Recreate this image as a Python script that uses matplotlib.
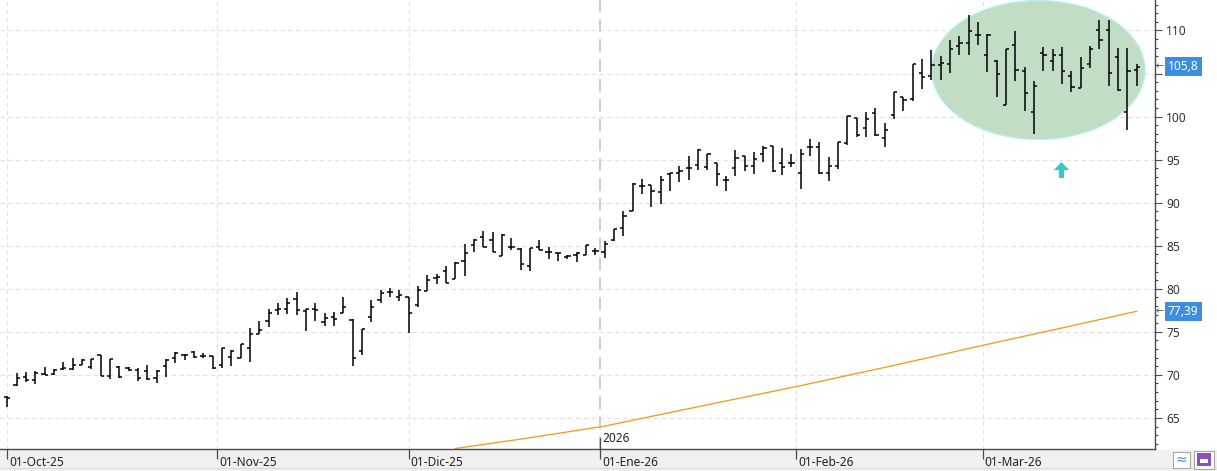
import numpy as np
import pandas as pd
import matplotlib
matplotlib.use("Agg")
import matplotlib.pyplot as plt
import matplotlib.transforms as mtransforms
from matplotlib.patches import Ellipse, FancyArrow, Rectangle
from matplotlib.ticker import MultipleLocator, FuncFormatter

# ---------------- data ----------------
holidays = ["2025-12-25", "2025-12-26", "2026-01-01"]
dates = pd.bdate_range("2025-10-01", "2026-03-24").drop(pd.to_datetime(holidays))

opens = [67.45, 68.8, 69.7, 69.4, 70.1, 70.1, 70.7, 70.7, 71.2, 70.9,
         72.3, 69.9, 70.9, 70.8, 70.6, 70.4, 69.6, 71.05, 72.0, 72.3,
         72.7, 72.2, 72.2, 71.2, 72.1, 72.0, 73.1, 74.8, 76.2, 77.5,
         77.7, 78.8, 77.4, 77.7, 76.1, 76.7, 77.2, 76.4, 72.8, 76.75,
         78.65, 79.65, 79.1, 79.0, 78.1, 79.7, 81.2, 82.1, 81.1, 83.25,
         85.1, 86.0, 85.7, 83.8, 84.85, 84.6, 82.7, 84.85, 84.3, 84.15,
         83.7, 83.9, 83.95, 84.35, 84.3, 85.7, 87.1, 89.0, 91.9, 92.0,
         91.2, 93.35, 93.4, 94.05, 94.4, 94.15, 94.55, 92.6, 94.05, 95.4,
         94.3, 95.6, 96.6, 94.65, 94.6, 93.45, 96.5, 96.5, 93.5, 94.3,
         96.9, 99.8, 98.7, 100.4, 97.55, 100.15, 102.3, 102.0, 105.1, 104.7,
         106.0, 106.1, 108.15, 108.55, 109.5, 107.2, 106.45, 101.4, 108.35, 105.3,
         100.55, 107.4, 106.45, 107.15, 104.75, 103.3, 106.05, 110.0, 110.0, 106.95,
         100.55, 105.4]
highs = [67.6, 70.2, 70.3, 70.4, 70.9, 70.7, 71.5, 72.0, 71.8, 71.9,
         72.3, 71.8, 71.0, 70.9, 70.8, 71.2, 70.6, 71.8, 72.7, 72.4,
         72.8, 72.5, 72.2, 73.1, 72.9, 73.6, 75.5, 76.3, 77.7, 78.3,
         78.9, 79.6, 77.6, 78.3, 77.2, 77.3, 79.1, 76.5, 75.3, 78.65,
         79.9, 80.1, 79.8, 79.1, 80.3, 81.6, 81.75, 82.7, 83.1, 85.2,
         85.8, 86.7, 86.6, 86.4, 85.9, 84.7, 84.7, 85.7, 84.85, 84.2,
         83.95, 84.25, 85.1, 84.7, 85.5, 86.95, 89.0, 92.3, 92.8, 92.0,
         93.15, 93.4, 94.3, 95.4, 96.2, 95.7, 94.55, 93.15, 96.15, 95.45,
         95.85, 96.6, 96.6, 96.35, 95.7, 96.2, 97.45, 97.05, 95.25, 97.0,
         100.1, 99.8, 100.5, 100.95, 99.3, 102.9, 102.3, 106.05, 106.7, 107.75,
         107.05, 108.85, 109.4, 111.85, 111.0, 109.6, 106.55, 107.9, 109.9, 105.8,
         104.1, 108.1, 107.8, 108.1, 105.3, 106.95, 108.15, 111.25, 111.25, 107.95,
         107.95, 106.05]
lows = [66.3, 68.75, 69.2, 68.9, 70.0, 70.0, 70.6, 70.6, 71.1, 70.7,
        69.85, 69.5, 69.6, 70.4, 69.3, 69.4, 69.1, 69.8, 71.4, 71.7,
        72.0, 72.0, 70.7, 70.85, 71.0, 72.0, 71.5, 74.8, 75.6, 76.9,
        77.1, 76.9, 75.1, 76.25, 75.7, 75.7, 77.2, 71.0, 72.3, 76.1,
        78.3, 79.0, 78.6, 74.85, 77.9, 79.7, 80.6, 80.7, 81.1, 81.5,
        84.3, 84.9, 84.25, 83.8, 84.45, 82.2, 82.1, 84.45, 83.4, 83.2,
        83.5, 83.1, 83.9, 83.95, 83.55, 85.6, 86.15, 89.0, 91.05, 89.5,
        89.8, 91.4, 92.4, 92.6, 93.85, 93.8, 91.9, 91.35, 93.1, 93.65,
        93.3, 94.7, 93.55, 93.2, 94.1, 91.55, 95.45, 93.3, 92.55, 93.9,
        96.7, 97.6, 97.6, 97.7, 96.5, 99.7, 100.6, 101.8, 103.2, 104.2,
        104.2, 105.1, 107.2, 107.1, 108.35, 105.2, 102.25, 101.4, 104.15, 100.65,
        98.0, 105.3, 105.3, 103.8, 102.85, 103.3, 105.7, 107.9, 103.6, 103.0,
        98.45, 103.5]
closes = [67.35, 69.6, 69.4, 70.2, 70.0, 70.6, 70.8, 71.2, 71.7, 71.8,
          69.9, 71.8, 69.7, 70.6, 69.6, 69.5, 70.4, 71.7, 72.5, 72.3,
          72.1, 72.2, 70.8, 73.1, 72.8, 73.55, 74.8, 75.2, 77.2, 77.7,
          78.4, 77.5, 77.6, 77.5, 76.6, 76.5, 77.9, 72.0, 75.3, 77.9,
          79.5, 79.65, 79.3, 77.2, 79.9, 81.05, 81.35, 80.7, 83.0, 84.2,
          85.7, 84.9, 84.25, 86.2, 84.85, 82.9, 84.7, 84.45, 84.25, 84.15,
          83.75, 84.2, 85.1, 84.35, 85.25, 86.9, 88.4, 92.2, 91.9, 91.35,
          92.6, 93.4, 93.7, 94.05, 96.15, 95.6, 93.3, 92.6, 95.2, 94.25,
          95.1, 96.35, 93.65, 94.15, 94.6, 95.6, 96.5, 93.5, 94.3, 97.0,
          100.1, 97.9, 99.7, 97.9, 98.4, 102.85, 101.9, 106.05, 104.6, 106.0,
          106.2, 107.8, 108.55, 109.9, 109.5, 109.5, 104.9, 107.9, 105.4, 102.75,
          103.6, 107.15, 107.15, 105.3, 103.4, 105.7, 107.9, 108.85, 105.05, 103.05,
          105.3, 105.8]

# moving average (orange), read at a few bars
ma_idx = [48, 56, 64, 74, 85, 95, 105, 113, 121]
ma_val = [61.45, 62.7, 64.05, 66.3, 68.75, 71.1, 73.55, 75.45, 77.39]

month_labels = ["01-Oct-25", "01-Nov-25", "01-Dic-25", "01-Ene-26", "01-Feb-26", "01-Mar-26"]
year_label = "2026"

# ---------------- figure ----------------
W, H = 1217, 471
fig = plt.figure(figsize=(W / 100, H / 100), dpi=100)
fig.patch.set_facecolor("white")
ax = fig.add_axes([0, 22 / H, 1155 / W, 449 / H])
ax.set_xlim(-0.782, 122.96)
ax.set_ylim(61.39, 113.54)

FONT = "Noto Sans"
FS = 8.6

x = np.arange(len(dates))

# month tick positions (first trading day; half a bar earlier if the 1st was not traded)
month_pos = []
for m in pd.period_range("2025-10", "2026-03", freq="M"):
    first = m.to_timestamp()
    i = int(np.searchsorted(dates.values, np.datetime64(first)))
    month_pos.append(i if dates[i] == first else i - 0.5)
year_pos = month_pos[3]

# grid
for yv in range(65, 111, 5):
    ax.axhline(yv, color="#e0e0e0", lw=0.8, ls=(0, (4, 3)), zorder=0)
for k, p in enumerate(month_pos):
    if k == 3:
        ax.axvline(p, color="#c9c9c9", lw=1.3, ls=(0, (7, 4)), zorder=0)
    else:
        ax.axvline(p, color="#e0e0e0", lw=0.8, ls=(0, (4, 3)), zorder=0)

# highlighted zone
ax.add_patch(Ellipse((110.46, 105.41), width=22.85, height=16.14,
                     facecolor="#c1dec4", edgecolor="#b6efef", lw=1.0, zorder=1))
ax.add_patch(FancyArrow(112.94, 92.87, 0, 1.86, width=0.55, head_width=1.65,
                        head_length=0.95, length_includes_head=True,
                        color="#35c8cb", lw=0, zorder=2))

# OHLC bars
tick_w = 0.34
ax.vlines(x, lows, highs, color="black", lw=1.1, zorder=3)
ax.hlines(opens, x - tick_w, x, color="black", lw=1.1, zorder=3)
ax.hlines(closes, x, x + tick_w, color="black", lw=1.1, zorder=3)

# moving average
ax.plot(ma_idx, ma_val, color="#f59b1e", lw=0.95, zorder=2)

# spines / axes
for s in ["left", "top"]:
    ax.spines[s].set_visible(False)
for s in ["right", "bottom"]:
    ax.spines[s].set_color("#4a4a4a")
    ax.spines[s].set_linewidth(1.0)

ax.yaxis.tick_right()
ax.set_yticks(range(65, 111, 5))
# the 105 label sits under the last-price flag in the reference
ax.yaxis.set_major_formatter(FuncFormatter(lambda v, p: "" if abs(v - 105) < 0.01 else f"{v:.0f}"))
ax.yaxis.set_minor_locator(MultipleLocator(1))
ax.tick_params(axis="y", which="major", length=5, width=0.8, color="#4a4a4a",
               pad=3, labelsize=FS, labelcolor="#333333")
ax.tick_params(axis="y", which="minor", length=2.5, width=0.8, color="#4a4a4a")
for lab in ax.get_yticklabels():
    lab.set_fontfamily(FONT)

ax.set_xticks(month_pos)
ax.set_xticklabels([])
ax.tick_params(axis="x", which="major", length=7, width=0.9, color="#4a4a4a")

# month labels
lab_tr = mtransforms.offset_copy(ax.get_xaxis_transform(), fig=fig, x=2, y=-13, units="dots")
for p, t in zip(month_pos, month_labels):
    ax.text(p, 0, t, transform=lab_tr, ha="left", va="center", fontsize=FS,
            family=FONT, color="#222222", clip_on=False)
yr_tr = mtransforms.offset_copy(ax.get_xaxis_transform(), fig=fig, x=2, y=10, units="dots")
ax.text(year_pos, 0, year_label, transform=yr_tr, ha="left", va="center",
        fontsize=FS, family=FONT, color="#222222")
ax.plot([year_pos, year_pos], [0, 0.025], transform=ax.get_xaxis_transform(),
        color="#4a4a4a", lw=0.9, clip_on=False)

# value flags on the right axis
def flag(val, txt):
    tr = mtransforms.blended_transform_factory(ax.transAxes, ax.transData)
    ax.text(1, val, txt, transform=mtransforms.offset_copy(tr, fig=fig, x=13, y=0, units="dots"),
            ha="left", va="center", fontsize=FS, family=FONT, color="white", zorder=10,
            bbox=dict(boxstyle="square,pad=0.25", fc="#3b8ee2", ec="none"), clip_on=False)
    ax.text(1, val, "\u2190", transform=mtransforms.offset_copy(tr, fig=fig, x=1, y=0, units="dots"),
            ha="left", va="center", fontsize=7, family="DejaVu Sans", color="#555555",
            zorder=10, clip_on=False)

flag(closes[-1], f"{closes[-1]:.1f}".replace(".", ","))
flag(ma_val[-1], f"{ma_val[-1]:.2f}".replace(".", ","))

# bottom band + corner icons
fig.patches.append(Rectangle((0, 0), 1, 21.5 / H, transform=fig.transFigure,
                             fc="#f0f0f0", ec="none", zorder=-5))
fig.patches.append(Rectangle((0, 2 / H), 1, 0.6 / H, transform=fig.transFigure,
                             fc="#d8d8d8", ec="none", zorder=-4))
fig.patches.append(Rectangle((1173 / W, (H - 468) / H), 17 / W, 16 / H, transform=fig.transFigure,
                             fc="#ffffff", ec="#a8a8a8", lw=0.8, zorder=5))
fig.text(1181.5 / W, (H - 460) / H, "\u2248", ha="center", va="center", fontsize=10,
         color="#4a90d0", family="DejaVu Sans", zorder=6)
fig.patches.append(Rectangle((1194 / W, (H - 469) / H), 20 / W, 18 / H, transform=fig.transFigure,
                             fc="#ffffff", ec="#a8a8a8", lw=0.8, zorder=5))
fig.patches.append(Rectangle((1197 / W, (H - 466) / H), 14 / W, 13 / H, transform=fig.transFigure,
                             fc="#8c4fc6", ec="none", zorder=6))
fig.patches.append(Rectangle((1200 / W, (H - 463) / H), 8 / W, 4 / H, transform=fig.transFigure,
                             fc="#ffffff", ec="none", zorder=7))

fig.savefig("out.png", dpi=100, facecolor="white")
